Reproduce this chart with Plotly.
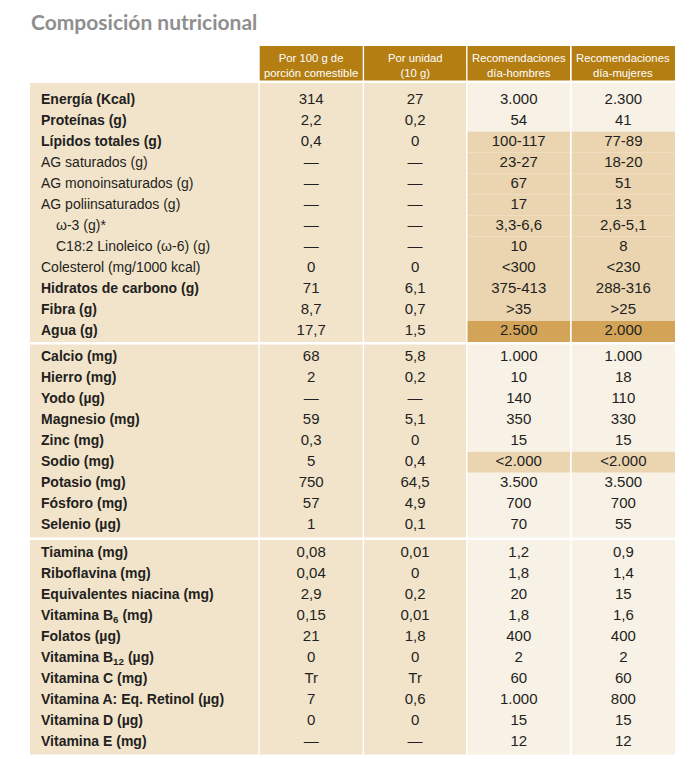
import plotly.graph_objects as go

# ---------------- data ----------------
title = "Composición nutricional"
headers = ["Por 100 g de<br>porción comestible", "Por unidad<br>(10 g)",
           "Recomendaciones<br>día-hombres", "Recomendaciones<br>día-mujeres"]

g1_labels = ["Energía (Kcal)", "Proteínas (g)", "Lípidos totales (g)", "AG saturados (g)",
             "AG monoinsaturados (g)", "AG poliinsaturados (g)", "ω-3 (g)*",
             "C18:2 Linoleico (ω-6) (g)", "Colesterol (mg/1000 kcal)",
             "Hidratos de carbono (g)", "Fibra (g)", "Agua (g)"]
g1_per100 = ["314", "2,2", "0,4", "—", "—", "—", "—", "—", "0", "71", "8,7", "17,7"]
g1_unit = ["27", "0,2", "0", "—", "—", "—", "—", "—", "0", "6,1", "0,7", "1,5"]
g1_men = ["3.000", "54", "100-117", "23-27", "67", "17", "3,3-6,6", "10", "<300", "375-413", ">35", "2.500"]
g1_women = ["2.300", "41", "77-89", "18-20", "51", "13", "2,6-5,1", "8", "<230", "288-316", ">25", "2.000"]

g2_labels = ["Calcio (mg)", "Hierro (mg)", "Yodo (µg)", "Magnesio (mg)", "Zinc (mg)",
             "Sodio (mg)", "Potasio (mg)", "Fósforo (mg)", "Selenio (µg)"]
g2_per100 = ["68", "2", "—", "59", "0,3", "5", "750", "57", "1"]
g2_unit = ["5,8", "0,2", "—", "5,1", "0", "0,4", "64,5", "4,9", "0,1"]
g2_men = ["1.000", "10", "140", "350", "15", "<2.000", "3.500", "700", "70"]
g2_women = ["1.000", "18", "110", "330", "15", "<2.000", "3.500", "700", "55"]

g3_labels = ["Tiamina (mg)", "Riboflavina (mg)", "Equivalentes niacina (mg)",
             "Vitamina B<sub>6</sub> (mg)", "Folatos (µg)", "Vitamina B<sub>12</sub> (µg)",
             "Vitamina C (mg)", "Vitamina A: Eq. Retinol (µg)", "Vitamina D (µg)", "Vitamina E (mg)"]
g3_per100 = ["0,08", "0,04", "2,9", "0,15", "21", "0", "Tr", "7", "0", "—"]
g3_unit = ["0,01", "0", "0,2", "0,01", "1,8", "0", "Tr", "0,6", "0", "—"]
g3_men = ["1,2", "1,8", "20", "1,8", "400", "2", "60", "1.000", "15", "12"]
g3_women = ["0,9", "1,4", "15", "1,6", "400", "2", "60", "800", "15", "12"]

# ---------------- styling ----------------
g1_bold = [1, 1, 1, 0, 0, 0, 0, 0, 0, 1, 1, 1]
g1_indent = [0, 0, 0, 0, 0, 0, 1, 1, 0, 0, 0, 0]
g1_shade = [0, 0, 1, 1, 1, 1, 1, 1, 1, 1, 1, 2]
g2_shade = [0, 0, 0, 0, 0, 1, 0, 0, 0]

groups = [
    dict(labels=g1_labels, cols=[g1_per100, g1_unit, g1_men, g1_women], bold=g1_bold,
         indent=g1_indent, shade=g1_shade, top=83, bottom=342, first=100),
    dict(labels=g2_labels, cols=[g2_per100, g2_unit, g2_men, g2_women], bold=[1] * 9,
         indent=[0] * 9, shade=g2_shade, top=344.5, bottom=537.5, first=357),
    dict(labels=g3_labels, cols=[g3_per100, g3_unit, g3_men, g3_women], bold=[1] * 10,
         indent=[0] * 10, shade=[0] * 10, top=540, bottom=754.5, first=553),
]

HEADER = "#B47E12"
LABEL_BG = "#F2E4CB"
LIGHT = "#F8F1E6"
MED = "#EBD5B1"
DARK = "#D3A457"
SHADES = [LIGHT, MED, DARK]
TXT = "#231F20"
FONT = "Liberation Sans, Arial, sans-serif"
STEP = 21.05
PAGE_OFF = 8  # default body margin of the html page

label_col = (30, 258.3)
col_bounds = [(259.7, 362.7), (364.1, 466.1), (467.5, 570), (571.7, 675)]
col_fill = [LABEL_BG, LABEL_BG, None, None]

fig = go.Figure()
shapes = []
annotations = []

def rect(x0, x1, y0, y1, color):
    shapes.append(dict(type="rect", xref="x", yref="y", x0=x0, x1=x1, y0=y0, y1=y1,
                       fillcolor=color, line=dict(width=0), layer="below"))

# title
annotations.append(dict(x=29, y=21, xref="x", yref="y", text=title, showarrow=False,
                        xanchor="left", yanchor="middle",
                        font=dict(family="Lato, Liberation Sans, sans-serif", size=21,
                                  weight=700, color="#8F8F8F")))

# header cells
for (x0, x1), h in zip(col_bounds, headers):
    rect(x0, x1, 46, 80.5, HEADER)
    annotations.append(dict(x=(x0 + x1) / 2, y=65, xref="x", yref="y", text=h, showarrow=False,
                            xanchor="center", yanchor="middle",
                            font=dict(family=FONT, size=11.3, color="white")))

for g in groups:
    n = len(g["labels"])
    ys = [g["first"] + i * STEP for i in range(n)]
    rect(label_col[0], label_col[1], g["top"], g["bottom"], LABEL_BG)
    for ci, (x0, x1) in enumerate(col_bounds):
        if col_fill[ci]:
            rect(x0, x1, g["top"], g["bottom"], col_fill[ci])
        else:
            for i, y in enumerate(ys):
                y0 = g["top"] if i == 0 else y - STEP / 2
                y1 = g["bottom"] if i == n - 1 else y + STEP / 2
                rect(x0, x1, y0, y1, SHADES[g["shade"][i]])
    texts = [("<b>%s</b>" % l) if b else l for l, b in zip(g["labels"], g["bold"])]
    xs = [41 + 15 * ind for ind in g["indent"]]
    fig.add_trace(go.Scatter(x=xs, y=ys, text=texts, mode="text", textposition="middle right",
                             hoverinfo="skip", cliponaxis=False,
                             textfont=dict(family=FONT, size=14, color=TXT)))
    for ci, (x0, x1) in enumerate(col_bounds):
        fig.add_trace(go.Scatter(x=[(x0 + x1) / 2] * n, y=ys, text=g["cols"][ci], mode="text",
                                 textposition="middle center", hoverinfo="skip", cliponaxis=False,
                                 textfont=dict(family=FONT, size=15, color=TXT)))

fig.update_layout(
    width=698 - PAGE_OFF, height=759 - PAGE_OFF, margin=dict(l=0, r=0, t=0, b=0),
    paper_bgcolor="white", plot_bgcolor="white", showlegend=False, shapes=shapes,
    annotations=annotations,
    xaxis=dict(range=[PAGE_OFF, 698], visible=False, fixedrange=True),
    yaxis=dict(range=[759, PAGE_OFF], visible=False, fixedrange=True),
)
fig.write_html("out.html")
